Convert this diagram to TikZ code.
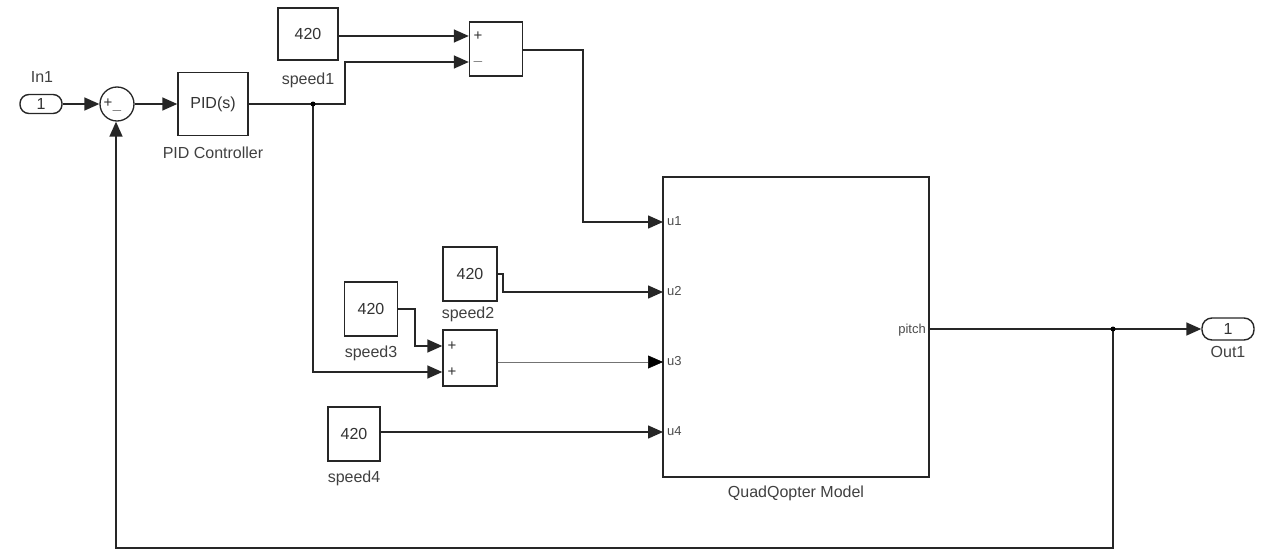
\documentclass[tikz,border=0pt]{standalone}
\usepackage{fontspec}
\setmainfont{Liberation Sans}
\usetikzlibrary{arrows.meta}
\begin{document}
\begin{tikzpicture}[x=1pt,y=-1pt,
  blk/.style={draw=black!85,line width=1.4pt,fill=white,inner sep=0pt,font=\fontsize{16}{17}\selectfont,text=black!80},
  lbl/.style={font=\fontsize{16}{17}\selectfont,text=black!75,inner sep=0pt},
  port/.style={font=\fontsize{13}{14}\selectfont,text=black!70,inner sep=0pt},
  sgn/.style={font=\fontsize{15}{15}\selectfont,text=black!80,inner sep=0pt},
  wire/.style={draw=black!85,line width=1.5pt},
  arr/.style={wire,-{Triangle[length=15pt,width=13pt]}},
  thinwire/.style={draw=black!55,line width=0.6pt,-{Triangle[length=15pt,width=13pt,color=black,fill=black]}},
  dot/.style={circle,fill=black,inner sep=0pt,minimum size=5pt}]
\useasboundingbox (0,0) rectangle (1267,551);

% Inport / Outport
\node[blk,rounded corners=9pt,minimum width=42pt,minimum height=19pt] (in1) at (41,104) {1};
\node[lbl] (in1l) at (42,77) {In1};
\node[blk,rounded corners=10pt,minimum width=52pt,minimum height=22pt] (out1) at (1228,329) {1};
\node[lbl] (out1l) at (1228,352) {Out1};

% sum circle
\node[circle,draw=black!85,line width=1.3pt,minimum size=34pt,inner sep=0pt] (sum) at (117,104) {};
\node[sgn] (sp) at (108,103) {+};
\node[sgn] (sm) at (117,111) {$-$};

% PID
\node[blk,minimum width=70pt,minimum height=63pt] (pid) at (213,104) {PID(s)};
\node[lbl] (pidl) at (213,153) {PID Controller};

% constants
\node[blk,minimum width=60pt,minimum height=52pt] (s1) at (308,34) {420};
\node[lbl] (s1l) at (308,80) {speed1};
\node[blk,minimum width=54pt,minimum height=54pt] (s2) at (470,274) {420};
\node[lbl] (s2l) at (468,314) {speed2};
\node[blk,minimum width=53pt,minimum height=54pt] (s3) at (371,309) {420};
\node[lbl] (s3l) at (371,353) {speed3};
\node[blk,minimum width=52pt,minimum height=54pt] (s4) at (354,434) {420};
\node[lbl] (s4l) at (354,478) {speed4};

% subtract & add
\node[blk,minimum width=53pt,minimum height=54pt] (sub) at (496,49) {};
\node[sgn] (subp) at (478,36) {+};
\node[sgn] (subm) at (478,62) {$-$};
\node[blk,minimum width=54pt,minimum height=56pt] (add) at (470,358) {};
\node[sgn] (addp1) at (452,346) {+};
\node[sgn] (addp2) at (452,372) {+};

% model
\node[blk,minimum width=266pt,minimum height=300pt] (mdl) at (796,327) {};
\node[lbl] (mdll) at (796,493) {QuadQopter Model};
\coordinate (m1) at (663,222);
\coordinate (m2) at (663,292);
\coordinate (m3) at (663,362);
\coordinate (m4) at (663,432);
\coordinate (mo) at (929,329);
\node[port,anchor=west] (u1) at (667,221) {u1};
\node[port,anchor=west] (u2) at (667,291) {u2};
\node[port,anchor=west] (u3) at (667,361) {u3};
\node[port,anchor=west] (u4) at (667,431) {u4};
\node[port,anchor=east] (pt) at (926,330) {pitch};

% wires
\draw[arr] (in1.east) -- (sum.west);
\draw[arr] (sum.east) -- (pid.west);
\coordinate (b1) at (313,104);
\draw[arr] (pid.east) -- (345,104) -- (345,62) -- (sub.west |- 0,62);
\draw[arr] (s1.east |- 0,36) -- (sub.west |- 0,36);
\draw[arr] (b1) -- (313,372) -- (add.west |- 0,372);
\node[dot] (b1d) at (b1) {};
\draw[arr] (sub.east |- 0,50) -- (583,50) -- (583,222) -- (m1);
\draw[arr] (s2.east) -- (503,274) -- (503,292) -- (m2);
\draw[arr] (s3.east) -- (415,309) -- (415,346) -- (add.west |- 0,346);
\draw[thinwire] (add.east |- m3) -- (m3);
\draw[arr] (s4.east |- m4) -- (m4);
\coordinate (b2) at (1113,329);
\draw[arr] (mo) -- (out1.west);
\draw[arr] (b2) -- (1113,548) -- (116,548) -- (sum.south -| 116,0);
\node[dot] (b2d) at (b2) {};
\end{tikzpicture}
\end{document}
